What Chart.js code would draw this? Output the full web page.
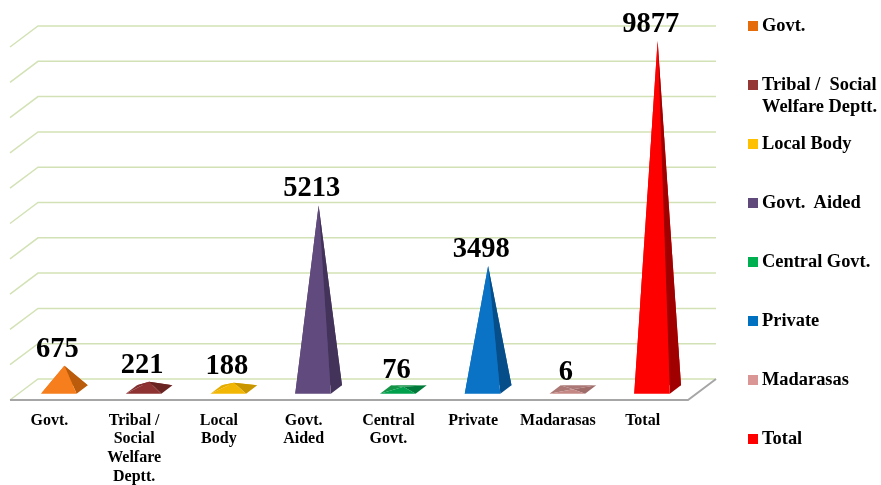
<!DOCTYPE html>
<html>
<head>
<meta charset="utf-8">
<script src="https://cdn.jsdelivr.net/npm/chart.js@4.4.1/dist/chart.umd.min.js"></script>
<style>
  html, body { margin: 0; padding: 0; background: #fff; }
  #wrap { position: relative; width: 881px; height: 485px; overflow: hidden; }
  #legend { position: absolute; left: 748px; top: 0; width: 133px; height: 485px;
            font: bold 18.4px "Liberation Serif", "Times New Roman", serif; color: #000; }
  .item { position: absolute; left: 0; }
  .sw { position: absolute; left: 0; top: 6px; width: 10px; height: 10px; }
  .txt { position: absolute; left: 14px; top: 0; line-height: 21.5px; white-space: pre; }
</style>
</head>
<body>
<div id="wrap">
  <canvas id="c" width="881" height="485"></canvas>
  <div id="legend"></div>
</div>
<script>
// Categories as shown under the floor (one array entry per line)
const categories = [
  ["Govt."],
  ["Tribal /", "Social", "Welfare", "Deptt."],
  ["Local", "Body"],
  ["Govt.", "Aided"],
  ["Central", "Govt."],
  ["Private"],
  ["Madarasas"],
  ["Total"]
];
// Legend captions
const legendLabels = [
  "Govt.",
  "Tribal /  Social\nWelfare Deptt.",
  "Local Body",
  "Govt.  Aided",
  "Central Govt.",
  "Private",
  "Madarasas",
  "Total"
];
// Number of schools by management
const schools = [675, 221, 188, 5213, 76, 3498, 6, 9877];

// Value axis
const axisMin = 0;
const axisMax = 10000;
const axisStep = 1000;

// Colours: legend swatch, lit front face, shaded side face, upper (back/left) faces
const swatchColors = ["#E46C0A", "#953735", "#FFC000", "#604A7B", "#00B050", "#0070C0", "#D99694", "#FF0000"];
const frontColors  = ["#F77E1C", "#8E3331", "#F2B705", "#614A7D", "#00A04C", "#0A73C6", "#C48784", "#FF0000"];
const sideColors   = ["#BA5C0C", "#6A2422", "#C99600", "#43325A", "#007A3A", "#064E8A", "#A06C6A", "#A00000"];
const topColors    = ["#E06E14", "#84302E", "#E5AC00", "#574270", "#149447", "#0866B2", "#AB7876", "#E00000"];

const DX = 14, DY = 10.5;          // half depth of the 3D box (x, y)
const gridColor = "#D3E2B6";
const floorColor = "#A6A6A6";
const serif = '"Liberation Serif", "Times New Roman", serif';

const pyramid3d = {
  id: "pyramid3d",
  beforeDatasetsDraw(chart) {
    const { ctx, chartArea: { left: L, right: R } } = chart;
    const y = chart.scales.y;
    ctx.save();
    ctx.lineWidth = 1.5;
    ctx.strokeStyle = gridColor;
    y.ticks.forEach(t => {
      const py = y.getPixelForValue(t.value);
      ctx.beginPath();
      ctx.moveTo(L - DX, py + DY);
      ctx.lineTo(L + DX, py - DY);
      ctx.lineTo(R + DX, py - DY);
      ctx.stroke();
    });
    // floor front and right edges
    const p0 = y.getPixelForValue(axisMin);
    ctx.strokeStyle = floorColor;
    ctx.lineWidth = 2;
    ctx.beginPath();
    ctx.moveTo(L - DX, p0 + DY);
    ctx.lineTo(R - DX, p0 + DY);
    ctx.lineTo(R + DX, p0 - DY);
    ctx.stroke();
    ctx.restore();
  },
  afterDatasetsDraw(chart) {
    const { ctx } = chart;
    const meta = chart.getDatasetMeta(0);
    const poly = (pts, color) => {
      ctx.beginPath();
      ctx.moveTo(pts[0][0], pts[0][1]);
      for (let k = 1; k < pts.length; k++) ctx.lineTo(pts[k][0], pts[k][1]);
      ctx.closePath();
      ctx.fillStyle = color;
      ctx.fill();
    };
    ctx.save();
    meta.data.forEach((bar, i) => {
      const w = bar.width;
      const c = bar.x - 2;
      const b = bar.base;
      const top = bar.y;
      const hx = w / 2, dx = w * 0.157, dy = w * 0.12;
      const FL = [c - dx - hx, b + dy], FR = [c - dx + hx, b + dy];
      const BR = [c + dx + hx, b - dy], BL = [c + dx - hx, b - dy];
      const A = [c, top];
      poly([BL, BR, A], topColors[i]);
      poly([FL, BL, A], topColors[i]);
      poly([FR, BR, A], sideColors[i]);
      poly([FL, FR, A], frontColors[i]);
      // value label
      ctx.fillStyle = "#000";
      ctx.font = "bold 28.5px " + serif;
      ctx.textAlign = "center";
      ctx.textBaseline = "alphabetic";
      ctx.fillText(String(schools[i]), c - 7, top - 9);
    });
    ctx.restore();
  }
};

new Chart(document.getElementById("c"), {
  type: "bar",
  data: {
    labels: categories,
    datasets: [{
      data: schools,
      backgroundColor: "rgba(0,0,0,0)",
      borderWidth: 0,
      barPercentage: 0.42,
      categoryPercentage: 1
    }]
  },
  options: {
    responsive: false,
    animation: false,
    events: [],
    layout: { padding: { left: 24, right: 179, top: 36.5, bottom: 0 } },
    plugins: { legend: { display: false }, tooltip: { enabled: false } },
    scales: {
      x: {
        grid: { display: false, drawTicks: false },
        border: { display: false },
        ticks: {
          color: "#000",
          font: { family: serif, size: 16, weight: "bold", lineHeight: 1.16 },
          labelOffset: -17,
          padding: 22,
          maxRotation: 0,
          autoSkip: false
        },
        afterFit(scale) { scale.height = 95.5; }
      },
      y: {
        display: false,
        min: axisMin,
        max: axisMax,
        ticks: { stepSize: axisStep }
      }
    }
  },
  plugins: [pyramid3d]
});

// Legend
const legendEl = document.getElementById("legend");
legendLabels.forEach((txt, i) => {
  const item = document.createElement("div");
  item.className = "item";
  item.style.top = (15 + i * 59) + "px";
  const sw = document.createElement("div");
  sw.className = "sw";
  sw.style.background = swatchColors[i];
  const t = document.createElement("div");
  t.className = "txt";
  t.textContent = txt;
  item.appendChild(sw);
  item.appendChild(t);
  legendEl.appendChild(item);
});
</script>
</body>
</html>
